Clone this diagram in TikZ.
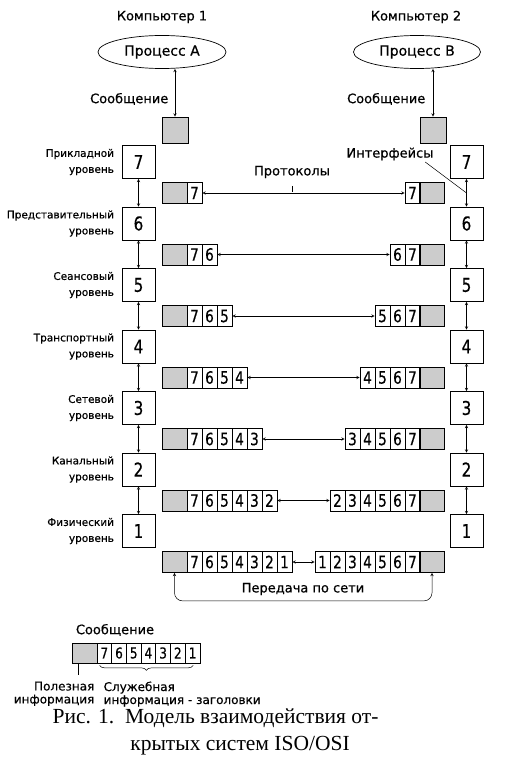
\documentclass[tikz,border=0pt]{standalone}
\usepackage{fontspec}
\setmainfont{DejaVu Sans}[FakeBold=0.5]
\newfontfamily\digitfont{DejaVu Sans}[FakeStretch=0.8, FakeBold=0.5]
\newfontfamily\capfont{Liberation Serif}
\usetikzlibrary{shapes.geometric,decorations.pathreplacing}

\tikzset{
  levelbox/.style={draw, rectangle, minimum width=33pt, minimum height=33pt, inner sep=0pt, font=\digitfont\fontsize{19}{19}\selectfont},
  cell/.style={draw, rectangle, minimum width=15pt, minimum height=21pt, inner sep=0pt, font=\digitfont\fontsize{17}{17}\selectfont},
  payload/.style={draw, rectangle, fill=gray!40, minimum width=25pt, minimum height=21pt, inner sep=0pt},
  lbl/.style={font=\fontsize{10.5}{16}\selectfont, align=right, anchor=east},
  ifarrow/.style={<->, >=stealth, line width=0.5pt},
}

\begin{document}
\begin{tikzpicture}[x=1pt, y=-1pt, font=\fontsize{13}{15}\selectfont, line width=0.7pt]
\useasboundingbox (0,0) rectangle (520,776);

\node (C1) at (162,17) {Компьютер 1};
\node (C2) at (416,17) {Компьютер 2};
\node[draw, ellipse, minimum width=128pt, minimum height=33pt, inner sep=0pt, font=\fontsize{14}{16}\selectfont] (PA) at (162,52) {Процесс A};
\node[draw, ellipse, minimum width=127pt, minimum height=33pt, inner sep=0pt, font=\fontsize{14}{16}\selectfont] (PB) at (417,52) {Процесс B};
\node[payload, minimum width=26pt, minimum height=26pt] (MA) at (175,130) {};
\node[payload, minimum width=26pt, minimum height=26pt] (MB) at (433,130) {};
\draw[ifarrow] (MA.north |- PA.south) -- (MA.north);
\draw[ifarrow] (MB.north |- PB.south) -- (MB.north);
\node[anchor=east] (SA) at (172,99) {Сообщение};
\node[anchor=east] (SB) at (429,99) {Сообщение};

% levels of both computers
\foreach \k in {1,...,7} {
  \pgfmathsetmacro\yy{162+61.5*(7-\k)}
  \node[levelbox] (L\k) at (138.5,\yy) {\k};
  \node[levelbox] (R\k) at (466.5,\yy) {\k};
}
\foreach \k/\name in {7/Прикладной, 6/Представительный, 5/Сеансовый, 4/Транспортный,
                      3/Сетевой, 2/Канальный, 1/Физический}
  \node[lbl, xshift=-4pt] (T\k) at (L\k.west) {\name\\уровень};
\foreach \k/\j in {7/6, 6/5, 5/4, 4/3, 3/2, 2/1} {
  \draw[ifarrow] (L\k) -- (L\j);
  \draw[ifarrow] (R\k) -- (R\j);
}

% packets
\foreach \k in {1,...,7} {
  \pgfmathsetmacro\ry{193+61.5*(7-\k)}
  \node[payload] (A\k) at (174.5,\ry) {};
  \node[payload] (B\k) at (432,\ry) {};
  \foreach \d in {7,...,\k} {
    \node[cell] (A\k-\d) at ({194.5+15*(7-\d)},\ry) {\d};
    \node[cell] (B\k-\d) at ({412.5-15*(7-\d)},\ry) {\d};
  }
  \draw[ifarrow] (A\k-\k) -- (B\k-\k);
}

\node (Prot) at (292,172) {Протоколы};
\draw[line width=0.5pt] ([yshift=-4pt]Prot.south) -- ++(0,6);
\node (Intf) at (390,154) {Интерфейсы};
\draw[line width=0.5pt] ([xshift=-12pt,yshift=2pt]Intf.south east) -- (R7.south |- A7.center);

\draw[ifarrow, rounded corners=8pt] (A1.south) -- ++(0,28) -| (B1.south);
\node (Net) at (303,589) {Передача по сети};

% legend
\node (Msg) at (115,630) {Сообщение};
\node[payload, minimum height=20pt] (LP) at (84.5,653) {};
\foreach \d in {7,...,1}
  \node[cell, minimum width=14.7pt, minimum height=20pt, font=\digitfont\fontsize{15}{15}\selectfont] (LP-\d) at ({104.35+14.7*(7-\d)},653) {\d};
\draw[line width=0.5pt, decorate, decoration={brace, mirror, amplitude=5pt}]
  ([xshift=3pt,yshift=-2pt]LP-7.south west) -- ([xshift=-7pt,yshift=-2pt]LP-1.south east);
\draw[line width=0.5pt] ([xshift=-6pt]LP.south) -- ++(0,12);
\node[anchor=north east, align=right, font=\fontsize{12}{13}\selectfont] (Use) at (98,678) {Полезная\\информация};
\node[anchor=north west, align=left, font=\fontsize{12}{13}\selectfont] (Srv) at (100,678) {Служебная\\информация - заголовки};

\node[anchor=west, font=\capfont\fontsize{21.5}{24}\selectfont] (Cap1) at (49,718) {Рис. 1.\ \ Модель взаимодействия от-};
\node[font=\capfont\fontsize{21.5}{24}\selectfont] (Cap2) at (240,746) {крытых систем ISO/OSI};
\end{tikzpicture}
\end{document}
